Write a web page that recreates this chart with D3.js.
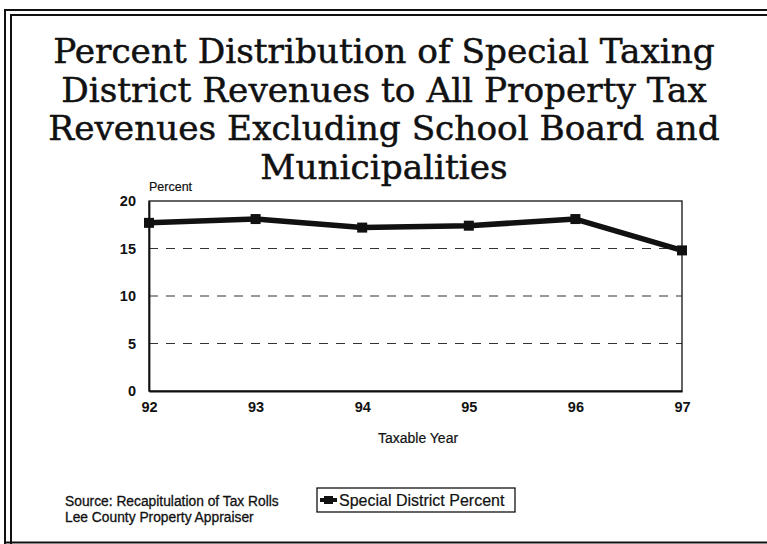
<!DOCTYPE html>
<html>
<head>
<meta charset="utf-8">
<script src="https://cdn.jsdelivr.net/npm/d3@7"></script>
<style>
  html, body { margin: 0; padding: 0; background: #fff; }
  svg { display: block; }
  text { fill: #111; }
</style>
</head>
<body>
<svg id="chart" width="767" height="544"></svg>
<script>
// Taxable years and the special district share of property tax revenues (%)
const years = ["92", "93", "94", "95", "96", "97"];
const specialDistrictPercent = [17.7, 18.1, 17.2, 17.4, 18.1, 14.8];
const yTicks = [0, 5, 10, 15, 20];
const titleLines = [
  "Percent Distribution of Special Taxing",
  "District Revenues to All Property Tax",
  "Revenues Excluding School Board and",
  "Municipalities"
];
const sourceLines = [
  "Source:  Recapitulation of Tax Rolls",
  "Lee County Property Appraiser"
];
const seriesName = "Special District Percent";

const svg = d3.select("#chart");
const W = 767, H = 544;

// Slide frame: double rule on top and left, single rule along the bottom
const frame = svg.append("g").attr("fill", "none").attr("stroke", "#111");
frame.append("path").attr("d", `M5,${H} V10 H${W}`).attr("stroke-width", 2);
frame.append("path").attr("d", `M11,${H} V15 H${W}`).attr("stroke-width", 2);
frame.append("line").attr("x1", 5).attr("x2", W).attr("y1", 542.5).attr("y2", 542.5).attr("stroke-width", 2);

// Title
const titleFont = "'DejaVu Serif', 'Liberation Serif', serif";
const title = svg.append("g").attr("font-family", titleFont);
const t0 = title.append("text").attr("font-size", 36).text(titleLines[0]);
const w0 = t0.node().getComputedTextLength();
t0.remove();
const titleSize = 36 * 662 / w0;
title.selectAll("text")
  .data(titleLines)
  .join("text")
  .attr("x", 384)
  .attr("y", (d, i) => 63 + i * 38.5)
  .attr("text-anchor", "middle")
  .attr("font-size", titleSize)
  .attr("stroke", "#111").attr("stroke-width", 0.5)
  .text(d => d);

// Plot area
const margin = { left: 149, right: 682, top: 201, bottom: 391 };
const x = d3.scalePoint().domain(years).range([margin.left, margin.right]).padding(0);
const y = d3.scaleLinear().domain([0, 20]).range([margin.bottom, margin.top]);

const sans = "'Liberation Sans', Arial, sans-serif";

// Dashed gridlines at interior ticks
svg.append("g")
  .selectAll("line")
  .data(yTicks.filter(v => v > 0 && v < 20))
  .join("line")
  .attr("x1", margin.left).attr("x2", margin.right)
  .attr("y1", d => y(d)).attr("y2", d => y(d))
  .attr("stroke", "#333").attr("stroke-width", 1)
  .attr("stroke-dasharray", "9,8");

// Plot border
svg.append("rect")
  .attr("x", margin.left).attr("y", margin.top)
  .attr("width", margin.right - margin.left).attr("height", margin.bottom - margin.top)
  .attr("fill", "none").attr("stroke", "#111").attr("stroke-width", 1.3);

// Axes
const yAxis = svg.append("g")
  .attr("transform", `translate(${margin.left},0)`)
  .call(d3.axisLeft(y).tickValues(yTicks).tickSize(0).tickPadding(13));
const xAxis = svg.append("g")
  .attr("transform", `translate(0,${margin.bottom})`)
  .call(d3.axisBottom(x).tickSize(0).tickPadding(11));
[yAxis, xAxis].forEach(g => {
  g.select(".domain").attr("stroke", "#111").attr("stroke-width", 1.8);
  g.selectAll("text")
    .attr("font-family", sans).attr("font-size", 14.5).attr("font-weight", "bold")
    .attr("fill", "#111");
});

// Axis titles
svg.append("text")
  .attr("x", 149).attr("y", 191)
  .attr("font-family", sans).attr("font-size", 12.5)
  .attr("stroke", "#111").attr("stroke-width", 0.2)
  .text("Percent");
svg.append("text")
  .attr("x", 418).attr("y", 443)
  .attr("text-anchor", "middle")
  .attr("font-family", sans).attr("font-size", 14)
  .attr("stroke", "#111").attr("stroke-width", 0.2)
  .text("Taxable Year");

// Series line with square markers
const pts = years.map((yr, i) => [x(yr), y(specialDistrictPercent[i])]);
svg.append("path")
  .attr("d", d3.line()(pts))
  .attr("fill", "none").attr("stroke", "#111").attr("stroke-width", 5.5)
  .attr("stroke-linejoin", "round");
svg.append("g")
  .selectAll("rect")
  .data(pts)
  .join("rect")
  .attr("x", d => d[0] - 5).attr("y", d => d[1] - 5)
  .attr("width", 10).attr("height", 10)
  .attr("fill", "#111");

// Source note
svg.append("g")
  .selectAll("text")
  .data(sourceLines)
  .join("text")
  .attr("x", 65).attr("y", (d, i) => 506 + i * 16)
  .attr("font-family", sans).attr("font-size", 13.8)
  .attr("stroke", "#111").attr("stroke-width", 0.3)
  .text(d => d);

// Legend
const legend = svg.append("g").attr("transform", "translate(317,488)");
legend.append("rect")
  .attr("width", 198).attr("height", 24)
  .attr("fill", "#fff").attr("stroke", "#111").attr("stroke-width", 1.3);
legend.append("line")
  .attr("x1", 3).attr("x2", 20).attr("y1", 12).attr("y2", 12)
  .attr("stroke", "#111").attr("stroke-width", 4);
legend.append("rect")
  .attr("x", 7).attr("y", 8).attr("width", 9).attr("height", 8).attr("fill", "#111");
legend.append("text")
  .attr("x", 22).attr("y", 18)
  .attr("font-family", sans).attr("font-size", 16)
  .attr("stroke", "#111").attr("stroke-width", 0.2)
  .text(seriesName);
</script>
</body>
</html>
